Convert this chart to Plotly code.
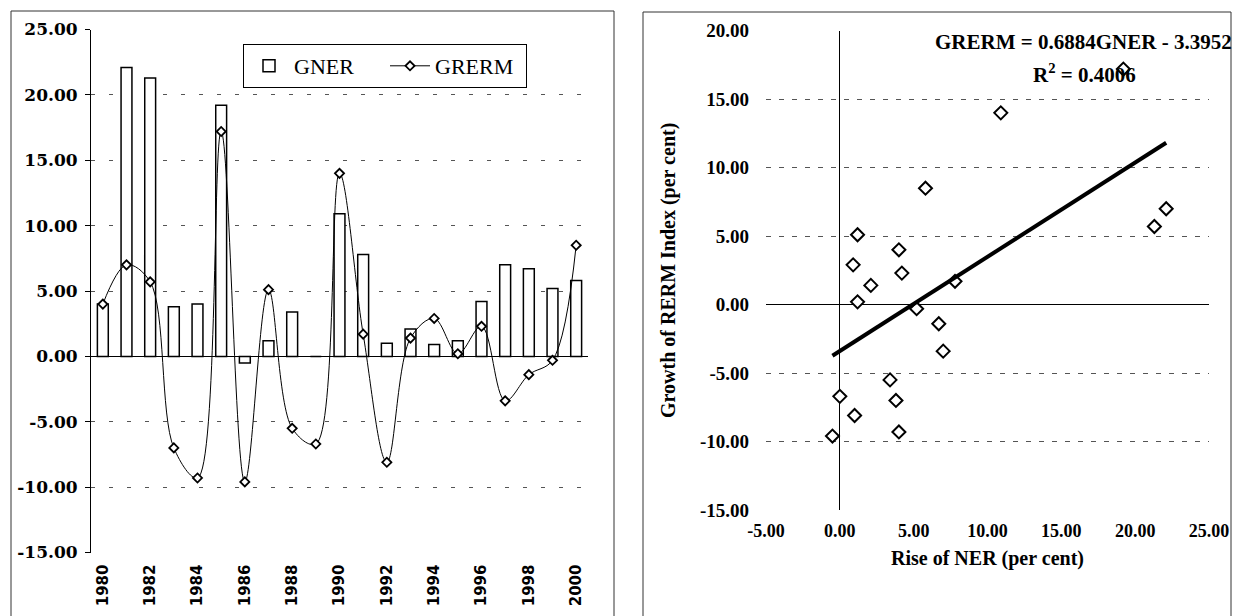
import plotly.graph_objects as go

# ---------------- data ----------------
YEARS = list(range(1980, 2001))
GNER = [4.0, 22.1, 21.3, 3.8, 4.0, 19.2, -0.5, 1.2, 3.4, 0.0, 10.9,
        7.8, 1.0, 2.1, 0.9, 1.2, 4.2, 7.0, 6.7, 5.2, 5.8]
GRERM = [4.0, 7.0, 5.7, -7.0, -9.3, 17.2, -9.6, 5.1, -5.5, -6.7, 14.0,
         1.7, -8.1, 1.4, 2.9, 0.2, 2.3, -3.4, -1.4, -0.3, 8.5]
SLOPE = 0.6884
INTERCEPT = -3.3952
R2 = 0.4006

YEAR_TICKS = list(range(1980, 2001, 2))
LEFT_Y_TICKS = [25, 20, 15, 10, 5, 0, -5, -10, -15]
RIGHT_Y_TICKS = [20, 15, 10, 5, 0, -5, -10, -15]
RIGHT_X_TICKS = [-5, 0, 5, 10, 15, 20, 25]

# ---------------- helpers ----------------
W, H = 1244, 616


def px(x):
    return x / W


def py(y):
    return 1 - y / H


SERIF = "Liberation Serif"

fig = go.Figure()

# Left panel: bars + smoothed line
fig.add_trace(go.Bar(
    x=YEARS, y=GNER, name="GNER", width=0.46,
    marker=dict(color="white", line=dict(color="black", width=1.5)),
    xaxis="x", yaxis="y"))
fig.add_trace(go.Scatter(
    x=YEARS, y=GRERM, name="GRERM", mode="lines+markers",
    line=dict(color="black", width=1, shape="spline", smoothing=1.0),
    marker=dict(symbol="diamond", size=7, color="white",
                line=dict(color="black", width=1.8)),
    xaxis="x", yaxis="y"))

# Right panel: scatter + trendline
fig.add_trace(go.Scatter(
    x=GNER, y=GRERM, mode="markers", showlegend=False,
    marker=dict(symbol="diamond", size=10, color="white",
                line=dict(color="black", width=2)),
    xaxis="x2", yaxis="y2"))
tx = [min(GNER), max(GNER)]
fig.add_trace(go.Scatter(
    x=tx, y=[SLOPE * v + INTERCEPT for v in tx], mode="lines",
    showlegend=False, line=dict(color="black", width=4),
    xaxis="x2", yaxis="y2"))

fig.update_layout(
    width=W, height=H, margin=dict(l=0, r=0, t=0, b=0, autoexpand=False),
    plot_bgcolor="white", paper_bgcolor="white",
    barmode="overlay",
    legend=dict(orientation="h", x=px(243), y=py(44), xanchor="left",
                yanchor="top", bordercolor="black", borderwidth=1,
                bgcolor="white", itemwidth=40, entrywidth=86,
                font=dict(family=SERIF, size=22, color="black")),
    xaxis=dict(domain=[px(91), px(588)], range=[1979.5, 2000.5],
               tickvals=YEAR_TICKS, ticktext=[str(v) for v in YEAR_TICKS],
               tickangle=-90, showgrid=False, zeroline=False,
               showline=False, ticks="", anchor="y", automargin=False,
               ticklabelstandoff=8,
               tickfont=dict(family="DejaVu Sans", size=15,
                             color="black", weight="bold")),
    yaxis=dict(domain=[py(552.5), py(29.5)], range=[-15, 25],
               tickvals=LEFT_Y_TICKS,
               ticktext=[f"{v:.2f}" for v in LEFT_Y_TICKS],
               showgrid=True, gridcolor="#555", gridwidth=1,
               griddash="4px,14px", zeroline=True, zerolinecolor="black",
               zerolinewidth=1, showline=True, linecolor="black",
               linewidth=1, ticks="outside", ticklen=5, tickcolor="black",
               anchor="x", ticklabelstandoff=4, automargin=False,
               tickfont=dict(family="DejaVu Serif", size=17,
                             color="black", weight="bold")),
    xaxis2=dict(domain=[px(766), px(1209)], range=[-5, 25],
                tickvals=RIGHT_X_TICKS,
                ticktext=[f"{v:.2f}" for v in RIGHT_X_TICKS],
                showgrid=False, zeroline=True, zerolinecolor="black",
                zerolinewidth=1, showline=False, ticks="", anchor="y2",
                ticklabelstandoff=8, automargin=False,
                tickfont=dict(family=SERIF, size=18, color="black",
                              weight="bold"),
                title=dict(text="Rise of NER (per cent)", standoff=10,
                           font=dict(family=SERIF, size=20, color="black",
                                     weight="bold"))),
    yaxis2=dict(domain=[py(510), py(30.7)], range=[-15, 20],
                tickvals=RIGHT_Y_TICKS,
                ticktext=[f"{v:.2f}" for v in RIGHT_Y_TICKS],
                showgrid=True, gridcolor="#555", gridwidth=1,
                griddash="5px,8px", zeroline=True, zerolinecolor="black",
                zerolinewidth=1, showline=False, ticks="", anchor="x2",
                ticklabelstandoff=16, automargin=False,
                tickfont=dict(family=SERIF, size=19, color="black",
                              weight="bold"),
                title=dict(text="Growth of RERM Index (per cent)",
                           standoff=18,
                           font=dict(family=SERIF, size=20, color="black",
                                     weight="bold"))),
)

# Trendline equation
fig.add_annotation(
    x=px(1083), y=py(42), xref="paper", yref="paper", showarrow=False,
    xanchor="center", yanchor="middle",
    text=f"GRERM = {SLOPE}GNER - {abs(INTERCEPT)}",
    font=dict(family=SERIF, size=21, color="black", weight="bold"))
fig.add_annotation(
    x=px(1084), y=py(74), xref="paper", yref="paper", showarrow=False,
    xanchor="center", yanchor="middle",
    text=f"R<sup>2</sup> = {R2}",
    font=dict(family=SERIF, size=21, color="black", weight="bold"))

# Panel frames
for x0, x1, y0 in [(11, 614, 11), (643, 1231, 12)]:
    fig.add_shape(type="rect", xref="paper", yref="paper",
                  x0=px(x0), x1=px(x1), y0=py(620), y1=py(y0),
                  line=dict(color="#333", width=1), layer="below")

fig.write_html("out.html")
